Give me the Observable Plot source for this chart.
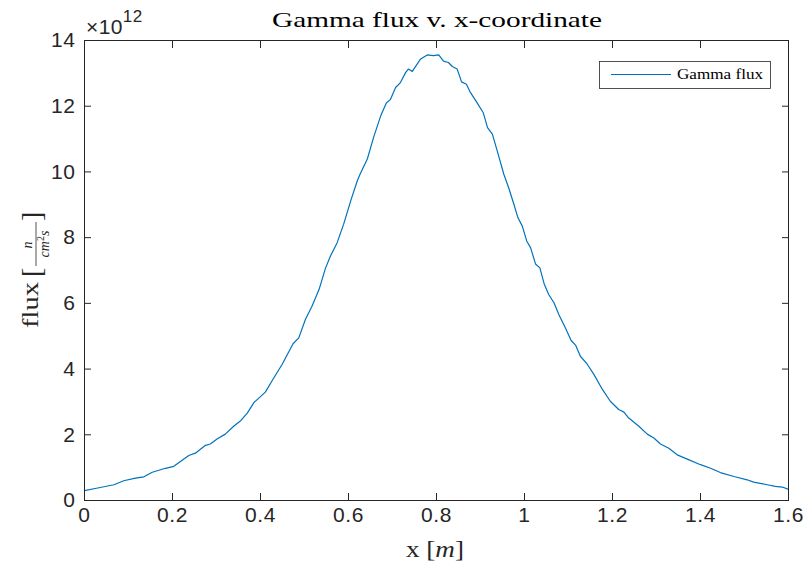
<!DOCTYPE html>
<html><head><meta charset="utf-8">
<script src="https://cdn.jsdelivr.net/npm/d3@7"></script>
<script src="https://cdn.jsdelivr.net/npm/@observablehq/plot@0.6"></script>
<style>body{margin:0;background:#fff} svg{display:block}</style>
</head><body><div id="chart"></div>
<script>
// x-coordinate [m]
const xPos = [0.0,0.03,0.067,0.089,0.116,0.135,0.154,0.184,0.203,0.218,0.237,0.252,0.275,0.286,0.302,0.320,0.339,0.355,0.370,0.385,0.411,0.427,0.449,0.474,0.487,0.502,0.517,0.533,0.548,0.559,0.574,0.589,0.605,0.62,0.627,0.643,0.657,0.673,0.686,0.695,0.707,0.718,0.730,0.736,0.745,0.764,0.779,0.793,0.805,0.816,0.827,0.836,0.847,0.857,0.868,0.877,0.892,0.906,0.916,0.927,0.938,0.953,0.964,0.976,0.985,0.995,1.005,1.014,1.025,1.035,1.045,1.055,1.067,1.078,1.093,1.106,1.116,1.127,1.143,1.158,1.177,1.195,1.214,1.226,1.237,1.26,1.279,1.294,1.309,1.328,1.347,1.37,1.4,1.423,1.445,1.476,1.506,1.521,1.552,1.57,1.586,1.6];
// gamma flux, in units of 1e12 n/(cm^2 s)
const flux = [0.30,0.38,0.48,0.60,0.68,0.72,0.86,0.98,1.04,1.19,1.37,1.44,1.68,1.72,1.88,2.02,2.26,2.43,2.66,2.98,3.30,3.66,4.14,4.77,4.95,5.51,5.91,6.42,7.08,7.44,7.84,8.41,9.12,9.73,9.95,10.4,11.05,11.7,12.1,12.2,12.57,12.72,13.03,13.13,13.06,13.44,13.56,13.54,13.56,13.37,13.33,13.21,13.13,12.74,12.67,12.42,12.11,11.81,11.35,11.15,10.64,9.93,9.52,9.01,8.61,8.35,7.90,7.69,7.20,7.08,6.58,6.27,6.02,5.66,5.25,4.87,4.73,4.39,4.14,3.83,3.38,3.02,2.77,2.69,2.51,2.26,2.02,1.90,1.72,1.59,1.39,1.26,1.09,0.98,0.85,0.73,0.63,0.56,0.48,0.43,0.41,0.34];
const xTicks = [0,0.2,0.4,0.6,0.8,1,1.2,1.4,1.6];
const yTicks = [0,2,4,6,8,10,12,14];
const seriesName = "Gamma flux";
const titleText = "Gamma flux v. x-coordinate";

const data = xPos.map((x, i) => ({x, y: flux[i]}));
const ink = "#262626";
const lineColor = "#0072BD";
const sans = "'Liberation Sans', Arial, sans-serif";
const serif = "'Liberation Serif', 'Times New Roman', serif";

const chart = Plot.plot({
  width: 806, height: 564,
  marginLeft: 84, marginRight: 18, marginTop: 40, marginBottom: 64,
  style: {fontFamily: sans, fontSize: "21px", color: ink, background: "#fff", letterSpacing: "0.6px"},
  x: {domain: [0, 1.6]},
  y: {domain: [0, 14]},
  marks: [
    Plot.line(data, {x: "x", y: "y", stroke: lineColor, strokeWidth: 1.2}),
    Plot.frame({stroke: ink, strokeWidth: 1}),
    Plot.axisX(xTicks, {anchor: "bottom", tickSize: -7, tickPadding: 14, tickFormat: d => String(d), label: null, color: ink}),
    Plot.axisX(xTicks, {anchor: "top", tickSize: -7, tickFormat: () => "", label: null, color: ink}),
    Plot.axisY(yTicks, {anchor: "left", tickSize: -7, tickPadding: 16, tickFormat: d => String(d), label: null, color: ink}),
    Plot.axisY(yTicks, {anchor: "right", tickSize: -7, tickFormat: () => "", label: null, color: ink})
  ]
});
document.getElementById("chart").appendChild(chart);

const svg = d3.select(chart);

// title
svg.append("text").attr("x", 437).attr("y", 27).attr("text-anchor", "middle")
  .attr("font-family", serif).attr("font-size", 21).attr("fill", "#000").style("letter-spacing", "0px")
  .attr("textLength", 330).attr("lengthAdjust", "spacingAndGlyphs").text(titleText);

// exponent
const ex = svg.append("text").attr("x", 86).attr("y", 34).attr("text-anchor", "start")
  .attr("font-family", sans).attr("font-size", 21).attr("fill", ink).style("letter-spacing", "0.4px");
ex.append("tspan").text("×10");
ex.append("tspan").attr("font-size", 17).attr("dy", -12).text("12");

// x label
const xl = svg.append("text").attr("x", 435).attr("y", 557).attr("text-anchor", "middle")
  .attr("font-family", serif).attr("font-size", 23).attr("fill", ink).style("letter-spacing", "0px")
  .attr("textLength", 58).attr("lengthAdjust", "spacingAndGlyphs");
xl.append("tspan").text("x [");
xl.append("tspan").attr("font-style", "italic").text("m");
xl.append("tspan").text("]");

// y label (rotated)
const yl = svg.append("g").attr("transform", "translate(38,271) rotate(-90)")
  .attr("font-family", serif).attr("fill", ink).attr("text-anchor", "start").style("letter-spacing", "0px");
yl.append("text").attr("x", -57).attr("y", 0).attr("font-size", 23).attr("textLength", 46).attr("lengthAdjust", "spacingAndGlyphs").text("flux");
yl.append("text").attr("x", -6).attr("y", 3).attr("font-size", 28).attr("font-weight", 200).text("[");
yl.append("text").attr("x", 26).attr("y", -6).attr("text-anchor", "middle").attr("font-size", 14).attr("font-style", "italic").text("n");
yl.append("line").attr("x1", 5).attr("x2", 49).attr("y1", -2).attr("y2", -2).attr("stroke", ink).attr("stroke-width", 0.8);
const den = yl.append("text").attr("x", 27).attr("y", 11).attr("text-anchor", "middle").attr("font-size", 14).attr("font-style", "italic");
den.append("tspan").text("cm");
den.append("tspan").attr("font-size", 10).attr("dy", -5).attr("font-style", "normal").text("2");
den.append("tspan").attr("dy", 5).text("s");
yl.append("text").attr("x", 50).attr("y", 3).attr("font-size", 28).attr("font-weight", 200).text("]");

// legend
const lg = svg.append("g");
lg.append("rect").attr("x", 599.5).attr("y", 61.5).attr("width", 171).attr("height", 27)
  .attr("fill", "#fff").attr("stroke", ink).attr("stroke-width", 0.8);
lg.append("line").attr("x1", 611).attr("x2", 671).attr("y1", 74.5).attr("y2", 74.5).attr("stroke", lineColor).attr("stroke-width", 1.2);
lg.append("text").attr("x", 677).attr("y", 79).attr("text-anchor", "start").attr("font-family", serif).attr("font-size", 14)
  .attr("fill", "#000").style("letter-spacing", "0px").attr("textLength", 86).attr("lengthAdjust", "spacingAndGlyphs").text(seriesName);
</script>
</body></html>
